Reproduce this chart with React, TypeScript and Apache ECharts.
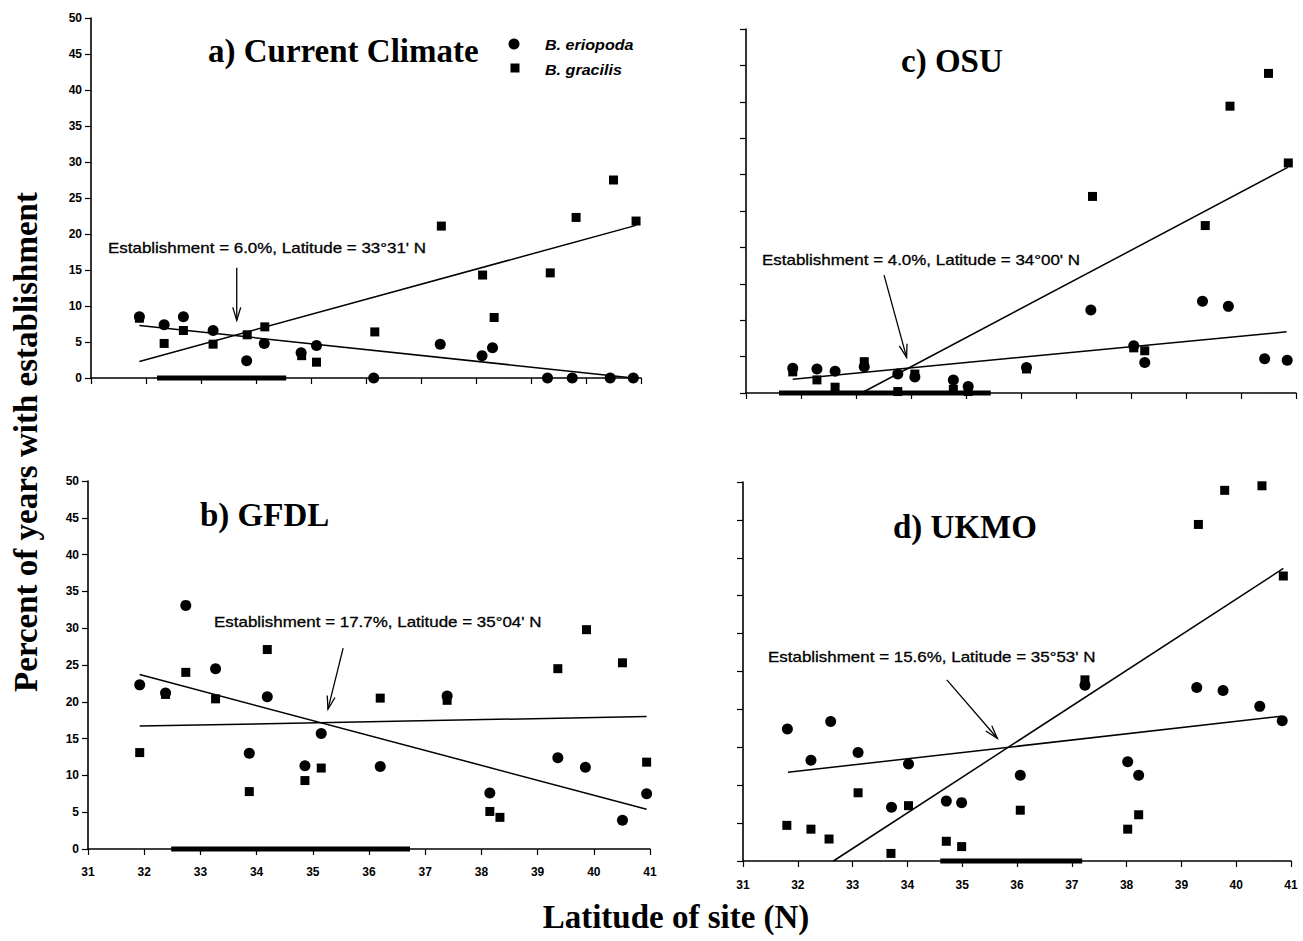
import React, { useEffect, useRef } from "react";
import * as echarts from "echarts";

// ---------- axis ranges / ticks ----------
const latMin = 31;
const latMax = 41;
const latStep = 1;
const pctMin = 0;
const pctMax = 50;
const pctStep = 5;

// ---------- a) Current Climate ----------
const eriopodaCurrent = [
  [31.88, 8.5], [32.33, 7.4], [32.68, 8.5], [33.22, 6.6], [33.83, 2.4], [34.15, 4.8],
  [34.82, 3.5], [35.1, 4.5], [36.14, 0], [37.35, 4.7], [38.11, 3.1], [38.3, 4.2],
  [39.3, 0], [39.75, 0], [40.44, 0], [40.86, 0],
];
const gracilisCurrent = [
  [31.88, 8.3], [32.33, 4.8], [32.68, 6.6], [33.22, 4.7], [33.84, 6.0], [34.16, 7.1],
  [34.83, 3.1], [35.1, 2.2], [36.16, 6.4], [37.37, 21.1], [38.12, 14.3], [38.33, 8.4],
  [39.35, 14.6], [39.82, 22.3], [40.5, 27.5], [40.91, 21.8],
];
const gracilisTrendCurrent = [[31.88, 2.3], [40.91, 21.2]];
const eriopodaTrendCurrent = [[31.88, 7.3], [40.86, 0]];
const rangeCurrent = [[32.2, 0], [34.55, 0]];

// ---------- b) GFDL ----------
const eriopodaGFDL = [
  [31.92, 22.3], [32.38, 21.2], [32.74, 33.1], [33.27, 24.5], [33.87, 13.0], [34.19, 20.7],
  [34.86, 11.3], [35.15, 15.7], [36.2, 11.2], [37.39, 20.8], [38.15, 7.6], [39.36, 12.4],
  [39.85, 11.1], [40.51, 3.9], [40.94, 7.5],
];
const gracilisGFDL = [
  [31.92, 13.1], [32.38, 21.0], [32.74, 24.0], [33.27, 20.4], [33.87, 7.8], [34.19, 27.1],
  [34.86, 9.3], [35.15, 11.0], [36.2, 20.5], [37.39, 20.2], [38.15, 5.1], [38.33, 4.3],
  [39.36, 24.5], [39.87, 29.8], [40.51, 25.3], [40.94, 11.8],
];
const eriopodaTrendGFDL = [[31.92, 23.7], [40.94, 5.4]];
const gracilisTrendGFDL = [[31.92, 16.7], [40.94, 18.0]];
const rangeGFDL = [[32.48, 0], [36.73, 0]];

// ---------- c) OSU ----------
const eriopodaOSU = [
  [31.85, 3.4], [32.29, 3.3], [32.62, 3.0], [33.15, 3.6], [33.76, 2.6], [34.07, 2.2],
  [34.77, 1.8], [35.04, 0.9], [36.1, 3.5], [37.27, 11.4], [38.05, 6.5], [38.25, 4.2],
  [39.3, 12.6], [39.77, 11.9], [40.43, 4.7], [40.84, 4.5],
];
const gracilisOSU = [
  [31.85, 2.9], [32.29, 1.8], [32.62, 0.8], [33.15, 4.3], [33.76, 0.2], [34.07, 2.6],
  [34.77, 0.5], [35.04, 0.2], [36.1, 3.3], [37.3, 27.0], [38.05, 6.2], [38.25, 5.8],
  [39.35, 23.0], [39.8, 39.4], [40.5, 43.9], [40.86, 31.6],
];
const gracilisTrendOSU = [[33.1, 0], [40.85, 31.0]];
const eriopodaTrendOSU = [[31.85, 1.9], [40.83, 8.4]];
const rangeOSU = [[31.6, 0], [35.45, 0]];

// ---------- d) UKMO ----------
const eriopodaUKMO = [
  [31.81, 17.4], [32.24, 13.3], [32.6, 18.4], [33.1, 14.3], [33.71, 7.1], [34.02, 12.8],
  [34.71, 7.9], [34.99, 7.7], [36.06, 11.3], [37.24, 23.2], [38.02, 13.1], [38.22, 11.3],
  [39.28, 22.9], [39.76, 22.5], [40.43, 20.4], [40.84, 18.5],
];
const gracilisUKMO = [
  [31.8, 4.7], [32.24, 4.2], [32.57, 2.9], [33.1, 9.0], [33.7, 1.0], [34.02, 7.3],
  [34.71, 2.6], [34.99, 1.9], [36.06, 6.7], [37.24, 23.9], [38.02, 4.2], [38.22, 6.1],
  [39.31, 44.4], [39.79, 48.9], [40.47, 49.5], [40.86, 37.6],
];
const gracilisTrendUKMO = [[32.65, 0], [40.86, 38.6]];
const eriopodaTrendUKMO = [[31.82, 11.7], [40.82, 19.1]];
const rangeUKMO = [[34.6, 0], [37.19, 0]];

// ---------- texts ----------
const panelTitles = ["a) Current Climate", "b) GFDL", "c) OSU", "d) UKMO"];
const annotations = [
  "Establishment = 6.0%, Latitude = 33°31' N",
  "Establishment = 17.7%, Latitude = 35°04' N",
  "Establishment = 4.0%, Latitude = 34°00' N",
  "Establishment = 15.6%, Latitude = 35°53' N",
];
// arrow tail / head in data space [lat, pct]
const arrowsData = [
  [[33.65, 15.3], [33.65, 8.0]],
  [[35.54, 27.3], [35.27, 19.0]],
  [[33.51, 16.2], [33.92, 4.9]],
  [[34.72, 23.9], [35.64, 16.2]],
];
const speciesNames = ["B. eriopoda", "B. gracilis"];
const yTitle = "Percent of years with establishment";
const xTitle = "Latitude of site (N)";

const panels = [
  { erio: eriopodaCurrent, grac: gracilisCurrent, trends: [gracilisTrendCurrent, eriopodaTrendCurrent], range: rangeCurrent },
  { erio: eriopodaGFDL, grac: gracilisGFDL, trends: [eriopodaTrendGFDL, gracilisTrendGFDL], range: rangeGFDL },
  { erio: eriopodaOSU, grac: gracilisOSU, trends: [gracilisTrendOSU, eriopodaTrendOSU], range: rangeOSU },
  { erio: eriopodaUKMO, grac: gracilisUKMO, trends: [gracilisTrendUKMO, eriopodaTrendUKMO], range: rangeUKMO },
];

// layout
const grids = [
  { left: 91, top: 18, width: 550, height: 360 },
  { left: 88, top: 481, width: 562, height: 368 },
  { left: 746, top: 29, width: 550, height: 364 },
  { left: 743, top: 482, width: 548, height: 379 },
];
const showXLabels = [false, true, false, true];
const showYLabels = [true, true, false, false];
const xLabelMargin = [17, 17, 17, 18];
const titlePos = [
  [208, 51],
  [200, 515],
  [901, 61],
  [893, 527],
];
const annPos = [
  [108, 248],
  [214, 622],
  [762, 260],
  [768, 657],
];

const SANS = "'Liberation Sans', Arial, Helvetica, sans-serif";
const SERIF = "'Liberation Serif', 'Times New Roman', Times, serif";

function arrow(p0: number[], p1: number[]) {
  const dx = p1[0] - p0[0];
  const dy = p1[1] - p0[1];
  const len = Math.hypot(dx, dy);
  const ux = dx / len;
  const uy = dy / len;
  const L = 13;
  const w = 4;
  const bx = p1[0] - ux * L;
  const by = p1[1] - uy * L;
  const l = [bx - uy * w, by + ux * w];
  const r = [bx + uy * w, by - ux * w];
  return [
    { type: "line", silent: true, shape: { x1: p0[0], y1: p0[1], x2: p1[0], y2: p1[1] }, style: { stroke: "#000", lineWidth: 1.3 } },
    { type: "polyline", silent: true, shape: { points: [l, p1, r] }, style: { stroke: "#000", lineWidth: 1.3, fill: null } },
  ];
}

export default function App() {
  const ref = useRef<HTMLDivElement>(null);
  useEffect(() => {
    document.body.style.margin = "0";
    const chart = echarts.init(ref.current!, null, { renderer: "svg" });

    const xAxis = grids.map((_, i) => ({
      gridIndex: i,
      type: "value",
      min: latMin,
      max: latMax,
      interval: latStep,
      axisLine: { show: true, onZero: false, lineStyle: { color: "#000", width: 1.6 } },
      axisTick: { show: true, length: 6, lineStyle: { color: "#000", width: 1.2 } },
      axisLabel: { show: showXLabels[i], color: "#000", fontSize: 12, fontWeight: "bold", fontFamily: SANS, margin: xLabelMargin[i] },
      splitLine: { show: false },
    }));
    const yAxis = grids.map((_, i) => ({
      gridIndex: i,
      type: "value",
      min: pctMin,
      max: pctMax,
      interval: pctStep,
      axisLine: { show: true, onZero: false, lineStyle: { color: "#000", width: 1.6 } },
      axisTick: { show: true, length: 6, lineStyle: { color: "#000", width: 1.2 } },
      axisLabel: { show: showYLabels[i], color: "#000", fontSize: 12, fontWeight: "bold", fontFamily: SANS, margin: 9 },
      splitLine: { show: false },
    }));

    const series: any[] = [];
    panels.forEach((p, i) => {
      series.push({
        type: "line", name: "range", xAxisIndex: i, yAxisIndex: i, data: p.range,
        showSymbol: false, clip: false, lineStyle: { color: "#000", width: 5, opacity: 1 }, z: 3,
      });
      p.trends.forEach((t) => {
        series.push({
          type: "line", xAxisIndex: i, yAxisIndex: i, data: t,
          showSymbol: false, clip: false, lineStyle: { color: "#000", width: 1.5, opacity: 1 }, z: 3,
        });
      });
      series.push({
        type: "scatter", name: speciesNames[0], xAxisIndex: i, yAxisIndex: i, data: p.erio,
        symbol: "circle", symbolSize: 11, clip: false, itemStyle: { color: "#000", opacity: 1 }, z: 4,
      });
      series.push({
        type: "scatter", name: speciesNames[1], xAxisIndex: i, yAxisIndex: i, data: p.grac,
        symbol: "rect", symbolSize: 9, clip: false, itemStyle: { color: "#000", opacity: 1 }, z: 4,
      });
    });

    const baseGraphic: any[] = [];
    panelTitles.forEach((t, i) => {
      baseGraphic.push({
        type: "text", x: titlePos[i][0], y: titlePos[i][1], silent: true,
        style: { text: t, fill: "#000", fontFamily: SERIF, fontWeight: "bold", fontSize: 33, align: "left", verticalAlign: "middle" },
      });
    });
    annotations.forEach((t, i) => {
      baseGraphic.push({
        type: "text", x: annPos[i][0], y: annPos[i][1], scaleX: 1.13, silent: true,
        style: { text: t, fill: "#000", fontFamily: SANS, fontSize: 15, align: "left", verticalAlign: "middle", stroke: "#000", lineWidth: 0.3 },
      });
    });
    // legend
    baseGraphic.push({ type: "circle", shape: { cx: 514, cy: 44, r: 5.5 }, style: { fill: "#000" }, silent: true });
    baseGraphic.push({ type: "rect", shape: { x: 510.5, y: 63.5, width: 9, height: 9 }, style: { fill: "#000" }, silent: true });
    baseGraphic.push({
      type: "text", x: 545, y: 45, scaleX: 1.15, silent: true,
      style: { text: speciesNames[0], fill: "#000", fontFamily: SANS, fontStyle: "italic", fontWeight: "bold", fontSize: 14, align: "left", verticalAlign: "middle" },
    });
    baseGraphic.push({
      type: "text", x: 545, y: 70, scaleX: 1.15, silent: true,
      style: { text: speciesNames[1], fill: "#000", fontFamily: SANS, fontStyle: "italic", fontWeight: "bold", fontSize: 14, align: "left", verticalAlign: "middle" },
    });
    // axis titles
    baseGraphic.push({
      type: "text", x: 26, y: 442, rotation: Math.PI / 2, silent: true,
      style: { text: yTitle, fill: "#000", fontFamily: SERIF, fontWeight: "bold", fontSize: 33, align: "center", verticalAlign: "middle" },
    });
    baseGraphic.push({
      type: "text", x: 676, y: 917, silent: true,
      style: { text: xTitle, fill: "#000", fontFamily: SERIF, fontWeight: "bold", fontSize: 33, align: "center", verticalAlign: "middle" },
    });

    chart.setOption({
      animation: false,
      backgroundColor: "#fff",
      grid: grids.map((g) => ({ ...g, containLabel: false })),
      xAxis,
      yAxis,
      series,
      graphic: baseGraphic,
    });

    const arrowEls: any[] = [];
    arrowsData.forEach((a, i) => {
      const p0 = chart.convertToPixel({ gridIndex: i }, a[0]) as number[];
      const p1 = chart.convertToPixel({ gridIndex: i }, a[1]) as number[];
      arrowEls.push(...arrow(p0, p1));
    });
    chart.setOption({ graphic: [...baseGraphic, ...arrowEls] });

    return () => chart.dispose();
  }, []);
  return <div ref={ref} style={{ width: 1303, height: 941, position: "absolute", left: 0, top: 0 }} />;
}
